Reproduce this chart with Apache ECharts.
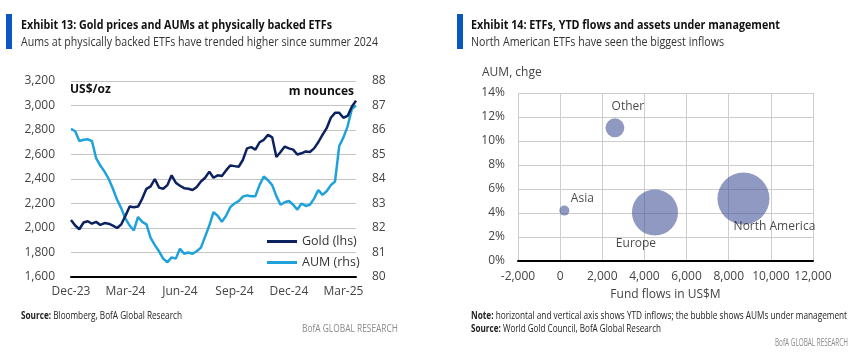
<!DOCTYPE html>
<html>
<head>
<meta charset="utf-8">
<script src="https://cdn.jsdelivr.net/npm/echarts@6/dist/echarts.min.js"></script>
<style>
html, body { margin: 0; padding: 0; background: #fff; }
#main { width: 860px; height: 352px; }
</style>
</head>
<body>
<div id="main"></div>
<script>
// Exhibit 13 - weekly points, first week of Dec-23 to mid Mar-25
var gold = [2066, 2020, 1990, 2045, 2055, 2035, 2050, 2025, 2040, 2035, 2020, 2000, 2030, 2100, 2175, 2170, 2175, 2240, 2320, 2340, 2400, 2330, 2320, 2350,
            2430, 2370, 2345, 2325, 2320, 2310, 2335, 2380, 2410, 2460, 2410, 2430, 2425, 2470, 2510, 2505, 2500, 2555, 2650, 2660, 2640, 2700, 2720,
            2760, 2740, 2580, 2620, 2665, 2650, 2640, 2600, 2610, 2625, 2620, 2650, 2700, 2760, 2815, 2900, 2940, 2940, 2900, 2915, 2990, 3040];
var aum = [86.05, 85.95, 85.55, 85.60, 85.62, 85.55, 84.85, 84.55, 84.30, 84.00, 83.60, 83.15, 82.80, 82.38, 82.10, 81.90, 82.45, 82.25, 82.15, 81.60, 81.30, 81.05, 80.75, 80.60,
           80.80, 80.75, 81.15, 80.95, 81.00, 80.95, 81.05, 81.20, 81.65, 82.10, 82.65, 82.50, 82.25, 82.50, 82.85, 83.00, 83.10, 83.28, 83.33, 83.30, 83.30, 83.76, 84.10,
           83.95, 83.75, 83.30, 82.95, 83.05, 83.10, 82.95, 82.75, 83.00, 82.90, 82.95, 83.20, 83.55, 83.35, 83.50, 83.75, 83.90, 85.35, 85.70, 86.15, 86.85, 87.00];
var tickLabels = ['Dec-23', 'Mar-24', 'Jun-24', 'Sep-24', 'Dec-24', 'Mar-25'];
var tickWeeks = [0, 13, 26, 39, 52, 65];

// Exhibit 14 - YTD flows (US$M), AUM change (%), AUM (bubble)
var regions = ['Asia', 'Other', 'Europe', 'North America'];
var flows = [200, 2600, 4500, 8700];
var aumChange = [4.2, 11.1, 4.05, 5.2];
var aumSize = [7, 25, 149, 190];

var FONT = "'Open Sans', sans-serif";
var NAVY = '#0c2160';
var SKY = '#1fa2dc';

var weeks = gold.map(function (v, i) { return String(i); });

// squeeze text horizontally so it matches the narrow house font
var ctx = document.createElement('canvas').getContext('2d');
function textWidth(str, size, weight) {
    ctx.font = weight + ' ' + size + 'px ' + FONT;
    return ctx.measureText(str).width;
}
function squeezed(x, y, parts, size, width, color) {
    var w = 0, txt = '', rich = {};
    parts.forEach(function (p, i) {
        w += textWidth(p[0], size, p[1]);
        rich['s' + i] = { fontSize: size, fontWeight: p[1], fontFamily: FONT, fill: color };
        txt += '{s' + i + '|' + p[0] + '}';
    });
    return {
        type: 'text', x: x, y: y, scaleX: width / w,
        style: { text: txt, rich: rich, fontSize: size, fontFamily: FONT, fill: color, verticalAlign: 'middle' }
    };
}

function comma(v) { return String(v).replace(/\B(?=(\d{3})+(?!\d))/g, ','); }

var labelOffset = {
    'Asia': [18, -12],
    'Other': [13, -21],
    'Europe': [-19, 31],
    'North America': [31, 28]
};

var bubbles = regions.map(function (r, i) {
    return {
        name: r,
        value: [flows[i], aumChange[i], aumSize[i]],
        label: { offset: labelOffset[r] }
    };
});

var axisText = { color: '#444', fontSize: 12, fontFamily: FONT };

var myChart = echarts.init(document.getElementById('main'));

var option = {
    animation: false,
    backgroundColor: '#fff',
    textStyle: { fontFamily: FONT },
    grid: [
        { left: 71, top: 81, width: 285, height: 196 },
        { left: 518, top: 93, width: 295, height: 168 }
    ],
    legend: {
        data: ['Gold (lhs)', 'AUM (rhs)'],
        left: 262, top: 230,
        orient: 'vertical',
        icon: 'rect',
        itemWidth: 30, itemHeight: 3, itemGap: 8,
        textStyle: { fontSize: 12.5, color: '#333', fontFamily: FONT }
    },
    xAxis: [
        {
            type: 'category', gridIndex: 0, data: weeks, boundaryGap: false,
            axisLine: { lineStyle: { color: '#000', width: 2 } },
            axisTick: { show: false },
            splitLine: { show: false },
            axisLabel: Object.assign({
                margin: 9,
                interval: function (i) { return tickWeeks.indexOf(i) >= 0; },
                formatter: function (v, i) { return tickLabels[tickWeeks.indexOf(+v)]; }
            }, axisText)
        },
        {
            type: 'value', gridIndex: 1, min: -2000, max: 12000, interval: 2000,
            axisLine: { onZero: false, lineStyle: { color: '#000', width: 2 } },
            axisTick: { show: false },
            splitLine: { lineStyle: { color: '#cdcdcd', width: 1 } },
            axisLabel: Object.assign({ margin: 10, formatter: function (v) { return (v < 0 ? '-' : '') + comma(Math.abs(v)); } }, axisText),
            name: 'Fund flows in US$M', nameLocation: 'middle', nameGap: 28,
            nameTextStyle: axisText
        }
    ],
    yAxis: [
        {
            type: 'value', gridIndex: 0, min: 1600, max: 3200, interval: 200,
            axisLine: { show: false }, axisTick: { show: false },
            splitLine: { lineStyle: { color: '#c4c4c4', width: 1 } },
            axisLabel: Object.assign({ margin: 16, formatter: comma }, axisText)
        },
        {
            type: 'value', gridIndex: 0, position: 'right', min: 80, max: 88, interval: 1,
            axisLine: { show: false }, axisTick: { show: false },
            splitLine: { show: false },
            axisLabel: Object.assign({ margin: 16 }, axisText)
        },
        {
            type: 'value', gridIndex: 1, min: 0, max: 14, interval: 2,
            axisLine: { show: false }, axisTick: { show: false },
            splitLine: { lineStyle: { color: '#cdcdcd', width: 1 } },
            axisLabel: Object.assign({ margin: 13, formatter: '{value}%' }, axisText)
        }
    ],
    series: [
        {
            name: 'AUM (rhs)', type: 'line', xAxisIndex: 0, yAxisIndex: 1,
            data: aum, showSymbol: false, color: SKY,
            itemStyle: { color: SKY },
            lineStyle: { color: SKY, width: 2.5 }
        },
        {
            name: 'Gold (lhs)', type: 'line', xAxisIndex: 0, yAxisIndex: 0,
            data: gold, showSymbol: false, color: NAVY,
            itemStyle: { color: NAVY },
            lineStyle: { color: NAVY, width: 2.5 }
        },
        {
            name: 'ETFs', type: 'scatter', xAxisIndex: 1, yAxisIndex: 2,
            data: bubbles,
            symbolSize: function (d) { return 52 * Math.sqrt(d[2] / 190); },
            itemStyle: { color: 'rgba(60, 78, 148, 0.72)' },
            label: {
                show: true, position: 'inside',
                formatter: '{b}',
                color: '#1a1a1a', fontSize: 12, fontFamily: FONT
            }
        }
    ],
    graphic: [
        { type: 'rect', shape: { x: 6, y: 14, width: 6, height: 35 }, style: { fill: '#0a56c2' } },
        squeezed(21, 25, [['Exhibit 13: Gold prices and AUMs at physically backed ETFs', 'bold']], 13, 311, '#111'),
        squeezed(21, 42, [['Aums at physically backed ETFs have trended higher since summer 2024', 'normal']], 13, 357, '#333'),
        { type: 'rect', shape: { x: 457, y: 14, width: 6, height: 35 }, style: { fill: '#0a56c2' } },
        squeezed(471, 25, [['Exhibit 14: ETFs, YTD flows and assets under management', 'bold']], 13, 309, '#111'),
        squeezed(471, 42, [['North American ETFs have seen the biggest inflows', 'normal']], 13, 253, '#333'),

        { type: 'text', x: 70, y: 90, style: { text: 'US$/oz', fontSize: 12, fontWeight: 'bold', fontFamily: FONT, fill: '#111', verticalAlign: 'middle' } },
        { type: 'text', x: 354, y: 92, style: { text: 'm nounces', fontSize: 12, fontWeight: 'bold', fontFamily: FONT, fill: '#111', align: 'right', verticalAlign: 'middle' } },
        { type: 'text', x: 482, y: 73, style: { text: 'AUM, chge', fontSize: 12, fontFamily: FONT, fill: '#444', verticalAlign: 'middle' } },

        squeezed(21, 316, [['Source:', 'bold'], [' Bloomberg, BofA Global Research', 'normal']], 10, 161, '#222'),
        squeezed(302, 329, [['BofA GLOBAL RESEARCH', 'normal']], 10, 96, '#8a8a8a'),
        squeezed(471, 316, [['Note:', 'bold'], [' horizontal and vertical axis shows YTD inflows; the bubble shows AUMs under management', 'normal']], 10, 376, '#222'),
        squeezed(471, 329, [['Source:', 'bold'], [' World Gold Council, BofA Global Research', 'normal']], 10, 190, '#222'),
        squeezed(775, 343, [['BofA GLOBAL RESEARCH', 'normal']], 10, 73, '#8a8a8a')
    ]
};

myChart.setOption(option, true);
</script>
</body>
</html>
